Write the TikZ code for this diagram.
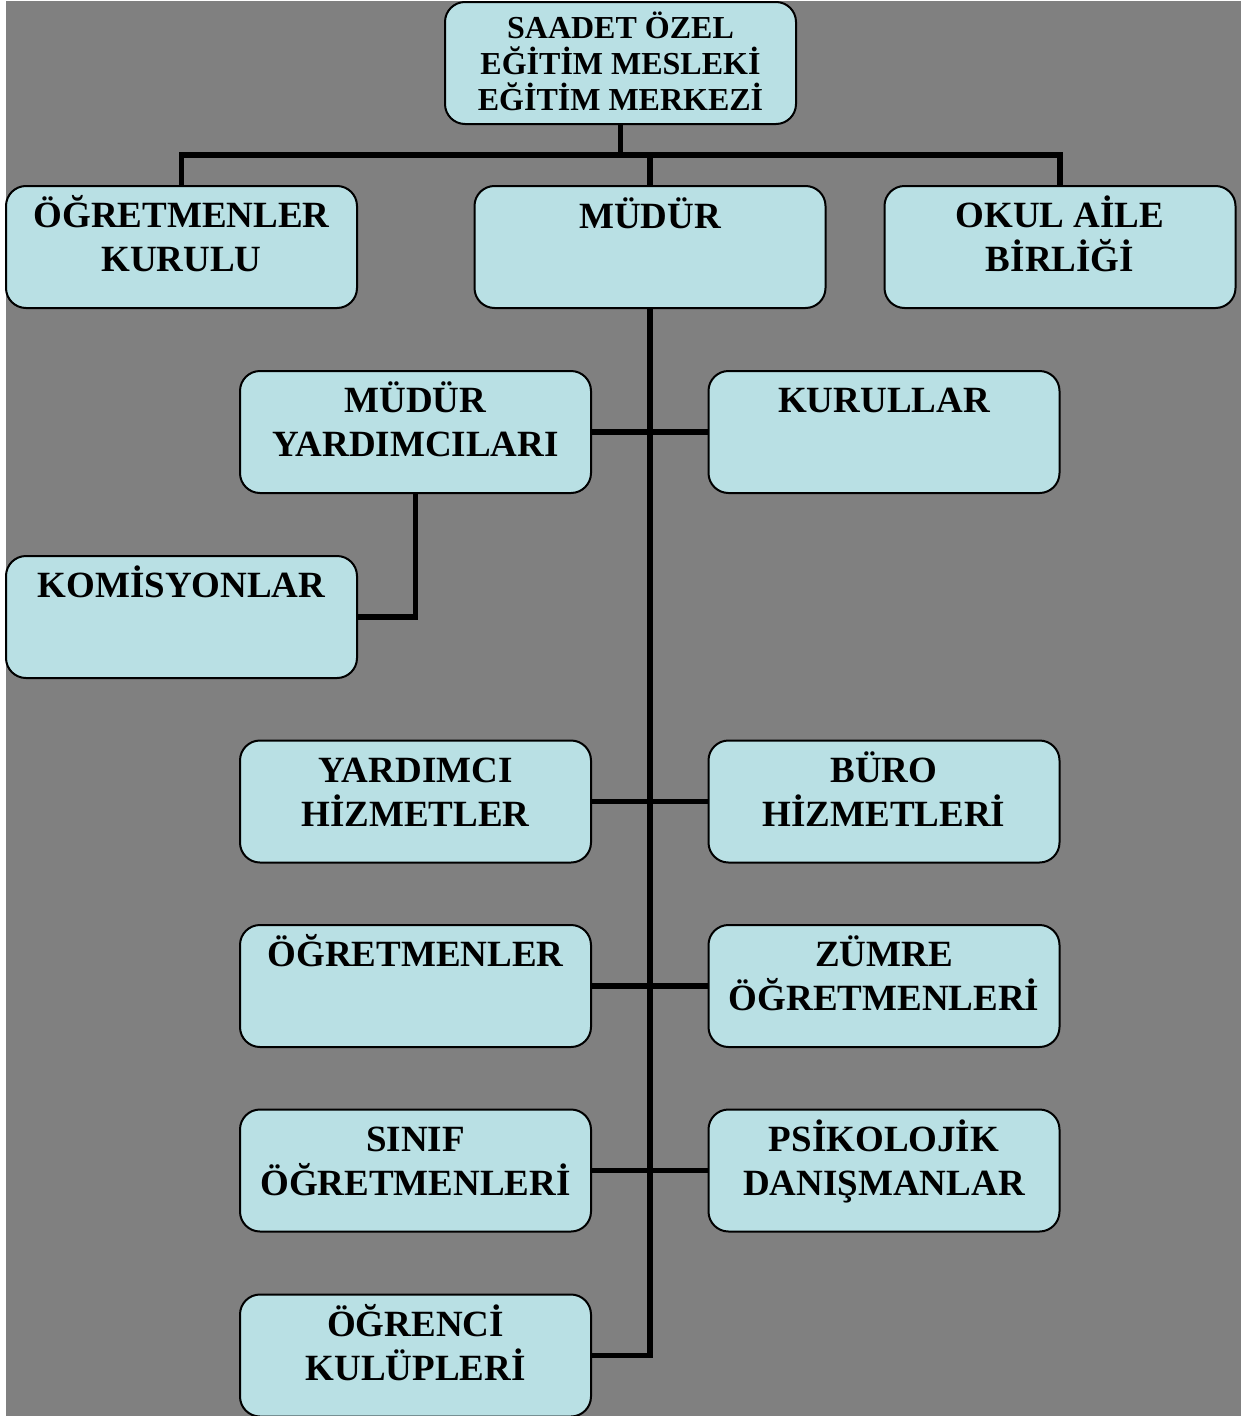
\documentclass[tikz,border=0pt]{standalone}
\usepackage{fontspec}
\setmainfont{Liberation Serif}
\usetikzlibrary{backgrounds}
\definecolor{bg}{HTML}{808080}
\definecolor{boxfill}{HTML}{B9E0E4}
\begin{document}
\begin{tikzpicture}[x=1pt,y=-1pt,
  orgbox/.style={draw=black, line width=2pt, fill=boxfill, rounded corners=20pt,
    minimum width=351pt, minimum height=122pt, inner sep=0pt, outer sep=0pt},
  txt/.style={anchor=base, inner sep=0pt, outer sep=0pt,
    font=\fontsize{37}{44}\selectfont\bfseries},
  ttxt/.style={anchor=base, inner sep=0pt, outer sep=0pt,
    font=\fontsize{32}{36}\selectfont\bfseries},
  conn/.style={draw=black, line width=5.5pt}]
\useasboundingbox (0,0) rectangle (1241,1416);

% boxes
\node[orgbox] (title) at (620.5,63) {};
\node[orgbox] (kurulu) at (181.5,247) {};
\node[orgbox] (mudur) at (650,247) {};
\node[orgbox] (okul) at (1060,247) {};
\node[orgbox] (myard) at (415.5,432) {};
\node[orgbox] (kurullar) at (884,432) {};
\node[orgbox] (komisyon) at (181.5,617) {};
\node[orgbox] (yhiz) at (415.5,801.5) {};
\node[orgbox] (buro) at (884,801.5) {};
\node[orgbox] (ogrt) at (415.5,986) {};
\node[orgbox] (zumre) at (884,986) {};
\node[orgbox] (sinif) at (415.5,1170.5) {};
\node[orgbox] (psk) at (884,1170.5) {};
\node[orgbox] (ogrenci) at (415.5,1355.5) {};
\coordinate (jt) at (620.5,155);

\begin{pgfonlayer}{background}
\fill[white] (0,0) rectangle (1241,1416);
\fill[bg] (6,1) rectangle (1241,1416);
\draw[conn] (title.south) -- (jt);
\draw[conn] (kurulu.north) |- (jt) -| (okul.north);
\draw[conn] (mudur.north) -- (mudur.north |- jt);
\draw[conn] (mudur.south) |- (ogrenci.east);
\draw[conn] (myard.east) -- (kurullar.west);
\draw[conn] (myard.south) |- (komisyon.east);
\draw[conn] (yhiz.east) -- (buro.west);
\draw[conn] (ogrt.east) -- (zumre.west);
\draw[conn] (sinif.east) -- (psk.west);
\end{pgfonlayer}

% texts
\node[ttxt] (ttitle) at (620.5,38) {\parbox[t]{340pt}{\centering\baselineskip=36pt SAADET ÖZEL\\EĞİTİM MESLEKİ\\EĞİTİM MERKEZİ}};
\node[txt] (tkurulu) at (181.5,227) {\parbox[t]{345pt}{\centering ÖĞRETMENLER\\KURULU}};
\node[txt] (tmudur) at (650,228) {\parbox[t]{345pt}{\centering MÜDÜR}};
\node[txt] (tokul) at (1060,227) {\parbox[t]{345pt}{\centering OKUL AİLE\\BİRLİĞİ}};
\node[txt] (tmyard) at (415.5,412) {\parbox[t]{345pt}{\centering MÜDÜR\\YARDIMCILARI}};
\node[txt] (tkurullar) at (884,412) {\parbox[t]{345pt}{\centering KURULLAR}};
\node[txt] (tkomisyon) at (181.5,597) {\parbox[t]{345pt}{\centering KOMİSYONLAR}};
\node[txt] (tyhiz) at (415.5,782) {\parbox[t]{345pt}{\centering YARDIMCI\\HİZMETLER}};
\node[txt] (tburo) at (884,782) {\parbox[t]{345pt}{\centering BÜRO\\HİZMETLERİ}};
\node[txt] (togrt) at (415.5,966) {\parbox[t]{345pt}{\centering ÖĞRETMENLER}};
\node[txt] (tzumre) at (884,966) {\parbox[t]{345pt}{\centering ZÜMRE\\ÖĞRETMENLERİ}};
\node[txt] (tsinif) at (415.5,1151) {\parbox[t]{345pt}{\centering SINIF\\ÖĞRETMENLERİ}};
\node[txt] (tpsk) at (884,1151) {\parbox[t]{345pt}{\centering PSİKOLOJİK\\DANIŞMANLAR}};
\node[txt] (togrenci) at (415.5,1336) {\parbox[t]{345pt}{\centering ÖĞRENCİ\\KULÜPLERİ}};
\end{tikzpicture}
\end{document}
